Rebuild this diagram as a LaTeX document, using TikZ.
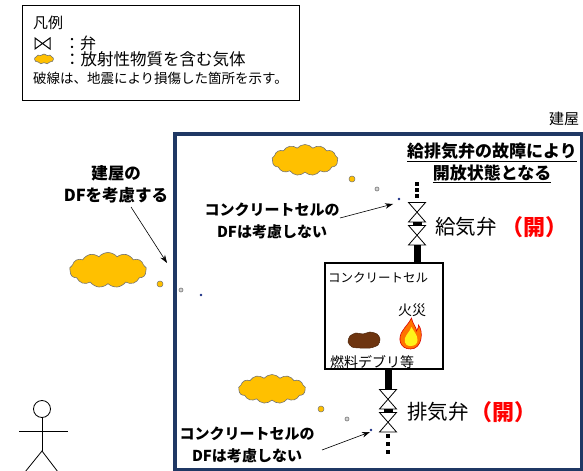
\documentclass[tikz,border=0pt]{standalone}
\usepackage{fontspec}
\newfontfamily\jp{Noto Sans CJK JP}
\usetikzlibrary{shapes.symbols,arrows.meta}
\definecolor{navy}{HTML}{1F3864}
\definecolor{gas}{HTML}{FFC000}
\definecolor{debris}{HTML}{6E3510}
\definecolor{openred}{HTML}{FF0000}
\newcommand\jpsize[1]{\jp\fontsize{#1}{22bp}\selectfont}
\newcommand\jpbold[1]{\jp\bfseries\fontsize{#1}{22bp}\selectfont}
\tikzset{
  txt/.style={inner sep=0pt, outer sep=0pt},
  note/.style={txt, align=center, font=\jpbold{15bp}},
  gascloud/.style={cloud, cloud puffs=13, cloud puff arc=100, aspect=2.2,
    draw=black!55, fill=gas, line width=0.6bp, inner sep=0pt},
  valvetri/.style={draw=black, fill=white, line width=0.8bp},
  pipe/.style={line width=7bp, black},
  arrowline/.style={-{Stealth[length=8bp,width=5.5bp]}, line width=0.6bp},
  bigp/.style={fill=gas, draw=black!55, line width=0.5bp},
  midp/.style={fill=gray!35, draw=black!55, line width=0.6bp},
  smallp/.style={fill=navy!80!blue},
  valvepair/.pic={
    \draw[valvetri] (-8.5,0) -- (8.5,0) -- (-8.5,19.5) -- (8.5,19.5) -- cycle;
    \fill[black] (-4.5,19.5) rectangle (4.5,23);
    \draw[valvetri] (-8.5,23) -- (8.5,23) -- (-8.5,42.5) -- (8.5,42.5) -- cycle;
  },
  dotsq/.pic={\fill[black] (-2,-2) rectangle (2,2);}
}
\begin{document}
\begin{tikzpicture}[x=1bp,y=-1bp]
\useasboundingbox (0,0) rectangle (583,471);

% ---- legend ----
\node[draw, line width=0.8bp, minimum width=277bp, minimum height=95bp,
      anchor=north west, inner sep=0, outer sep=0] (legend) at (22,5) {};
\node[txt, anchor=west, font=\jpsize{15bp}] (legtitle) at (33,23) {凡例};
\draw[valvetri, line width=1bp] (35,38) -- (50,49) -- (50,38) -- (35,49) -- cycle;
\node[txt, anchor=west, font=\jpsize{16bp}] (legvalve) at (64,43) {：弁};
\node[gascloud, cloud puffs=9, minimum width=19bp, minimum height=10bp] (legcloud) at (44,59) {};
\node[txt, anchor=west, font=\jpsize{16.5bp}] (leggas) at (64,59) {：放射性物質を含む気体};
\node[txt, anchor=west, font=\jpsize{13.5bp}] (legnote) at (33,78) {破線は、地震により損傷した箇所を示す。};

% ---- building ----
\node[draw=navy, line width=4bp, minimum width=406.5bp, minimum height=335.5bp,
      anchor=north west, inner sep=0, outer sep=0] (building) at (175,134.5) {};
\node[txt, font=\jpsize{15bp}] (bldlabel) at (564,119) {建屋};

% ---- gas clouds and particles ----
\node[gascloud, minimum width=66bp, minimum height=31bp] (cloudA) at (305,160) {};
\node[gascloud, minimum width=67bp, minimum height=29bp] (cloudB) at (272,389) {};
\node[gascloud, minimum width=77bp, minimum height=35bp] (cloudC) at (108,270) {};

\draw[bigp] (352,179) circle (3);
\draw[midp] (377,189) circle (2);
\fill[smallp] (399,199) circle (1.3);
\draw[bigp] (321,409) circle (3);
\draw[midp] (347,419) circle (2);
\fill[smallp] (371,430) circle (1.3);
\draw[bigp] (160,284) circle (3);
\draw[midp] (181,290) circle (2);
\fill[smallp] (201,295) circle (1.3);

% ---- concrete cell ----
\node[draw, line width=1.4bp, minimum width=118bp, minimum height=106bp,
      anchor=north west, inner sep=0, outer sep=0] (cell) at (325,263) {};
\node[txt, anchor=west, font=\jpsize{12.5bp}] (celltitle) at (328,278) {コンクリートセル};
\node[txt, font=\jpsize{14bp}] (fire) at (412,310) {火災};
\node[txt, font=\jpsize{14bp}] (fuel) at (372,362) {燃料デブリ等};

% fuel debris
\filldraw[fill=debris, draw=debris!70!black, line width=0.5bp]
  plot[smooth cycle] coordinates {(348,342) (350,336) (356,333) (363,334) (370,332)
    (377,334) (380,339) (378,345) (370,348) (360,348) (352,347)};

% fire
\begin{scope}[shift={(410.5,334)}]
  \filldraw[fill=orange!90!red, draw=red!85!black, line width=0.6bp]
    (0,15) .. controls (-11,15) and (-13,4) .. (-8,-3)
    .. controls (-5,-8) and (-2,-10) .. (1,-16)
    .. controls (2,-10) and (6,-7) .. (6,-3)
    .. controls (8,-5) and (8,-8) .. (8,-9)
    .. controls (13,-3) and (12,15) .. (0,15) -- cycle;
  \fill[yellow!90!white]
    (0,12) .. controls (-7,12) and (-7,5) .. (-4,1)
    .. controls (-2,-2) and (0,-4) .. (1,-7)
    .. controls (3,-3) and (7,1) .. (7,6)
    .. controls (7,10) and (4,12) .. (0,12) -- cycle;
\end{scope}

% ---- supply valve line ----
\coordinate (supTop) at (417,202.5);
\coordinate (supBot) at (417,245);
\draw[pipe] (supBot) -- (supBot |- cell.north);
\pic at (supTop) {valvepair};
\pic at (417,184) {dotsq};
\pic at (417,190.5) {dotsq};
\pic at (417,196.5) {dotsq};
\node[txt, anchor=west, font=\jpsize{20.5bp}] (supply) at (435,227) {給気弁};
\node[txt, font=\jpbold{22bp}, text=openred] (supplyopen) at (534,227) {（開）};

% ---- exhaust valve line ----
\coordinate (exhTop) at (388,389.5);
\draw[pipe] (exhTop |- cell.south) -- (exhTop);
\pic at (exhTop) {valvepair};
\pic at (388,435.5) {dotsq};
\pic at (388,444) {dotsq};
\pic at (388,452) {dotsq};
\node[txt, anchor=west, font=\jpsize{20.5bp}] (exhaust) at (407,412) {排気弁};
\node[txt, font=\jpbold{22bp}, text=openred] (exhaustopen) at (503,412) {（開）};

% ---- notes ----
\node[txt, align=center, font=\jpbold{17bp}] (bldnote) at (492,163)
  {\underline{給排気弁の故障により}\\\underline{開放状態となる}};
\node[note] (cellnoteA) at (272,221) {コンクリートセルの\\DFは考慮しない};
\node[note] (cellnoteB) at (247,445) {コンクリートセルの\\DFは考慮しない};
\node[txt, align=center, font=\jpbold{16.5bp}] (bldDF) at (116,184) {建屋の\\DFを考慮する};

\coordinate (aTail) at (340,218);
\coordinate (aTip) at (393,204);
\draw[arrowline] (aTail) -- (aTip);
\coordinate (bTail) at (322,450);
\coordinate (bTip) at (370,432);
\draw[arrowline] (bTail) -- (bTip);
\coordinate (cTail) at (131,207);
\coordinate (cTip) at (167,263);
\draw[arrowline] (cTail) -- (cTip);

% ---- person ----
\draw[line width=0.8bp] (42,409) circle (8.5);
\coordinate (hip) at (42,451);
\draw[line width=0.8bp] (42,417.5) -- (hip);
\draw[line width=0.8bp] (19,431) -- (68,431);
\draw[line width=0.8bp] (25,472) -- (hip) -- (58,472);
\end{tikzpicture}
\end{document}
